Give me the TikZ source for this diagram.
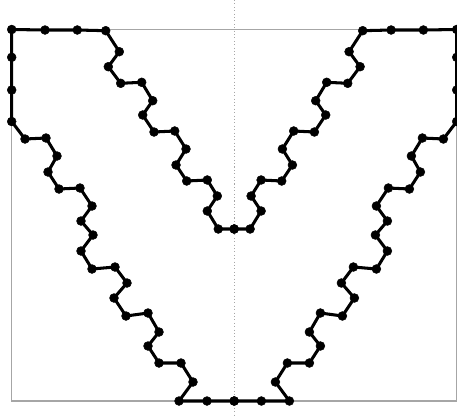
\documentclass[tikz,border=0pt]{standalone}
\usepackage{tikz}

\tikzset{
  chain/.style={line width=2.6pt, black, line join=round},
  bead/.style={mark=*, mark size=3.8pt, mark options={line width=0.4pt, fill=black}},
  frame/.style={gray!70, line width=0.9pt},
  midline/.style={gray!70, dotted, line width=0.9pt}
}

% left half of the chain, from bottom centre round to the inner centre
\newcommand{\halfchain}{%
  \draw[chain] plot[bead] coordinates {
    (234.2,401) (207,401) (179,401) (193,382) (181,363) (159,363)
    (148,346) (159,332) (148,313) (126,316) (114,298) (127,283)
    (115,267) (92,269) (81,251) (93,235) (81,221) (92,206)
    (80,188) (59,189) (48,172) (57,156) (46,138) (25,139)
    (11.7,121.5) (11.7,90) (11.7,57.3) (11.7,29.5)
    (45,30) (77.3,30) (105.7,30.7) (119.3,51.7) (108.3,66.7)
    (120.7,83.3) (141.7,82.3) (152.7,100.7) (142.7,115) (154,132)
    (174.7,131) (186,149) (176,165) (186.7,181) (207.3,180)
    (217.3,196) (207.3,211) (218.3,229) (234.2,229)
  };}

\begin{document}
\begin{tikzpicture}[x=0.03cm,y=-0.03cm]
  \useasboundingbox (0,0) rectangle (457,417);

  \draw[frame] (11.7,29.5) rectangle (456.7,401);
  \draw[midline] (234.2,0) -- (234.2,417);

  \halfchain
  \begin{scope}[shift={(468.4,0)}, xscale=-1]
    \halfchain
  \end{scope}
\end{tikzpicture}
\end{document}
